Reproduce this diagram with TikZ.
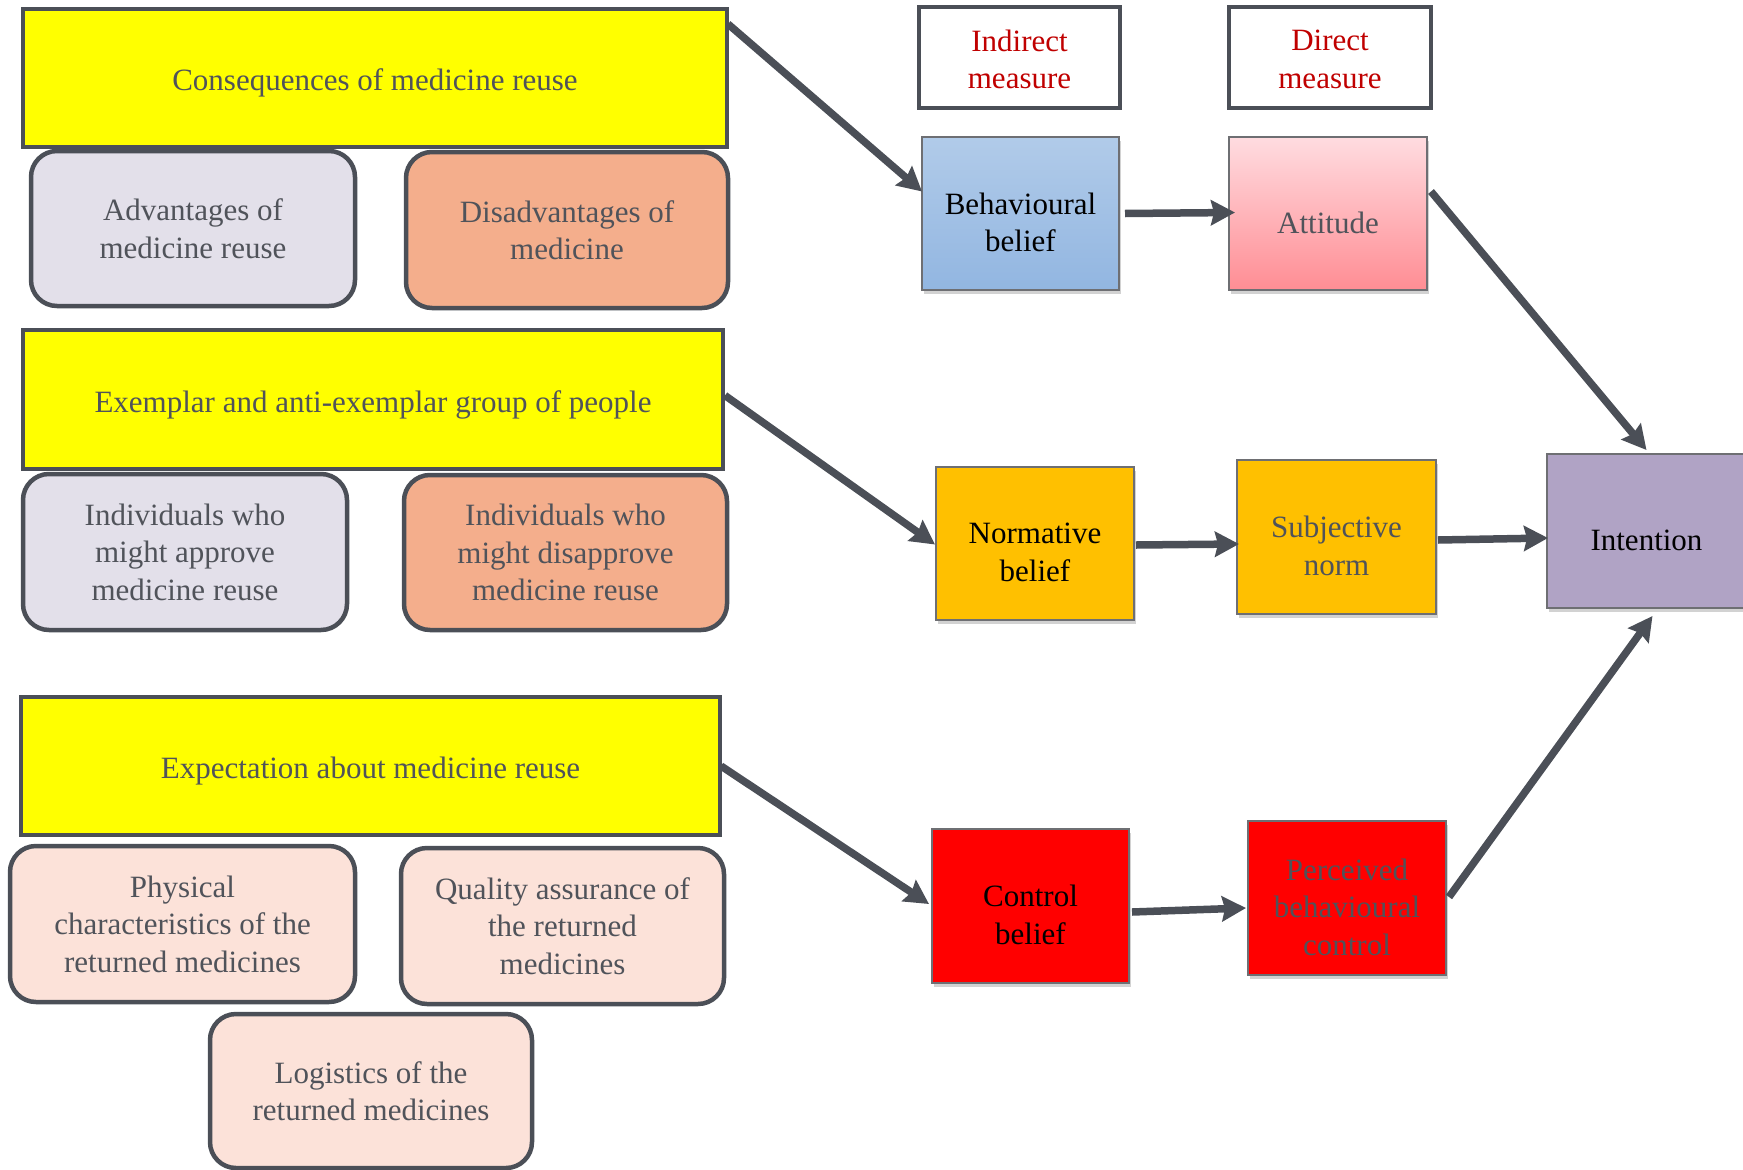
\documentclass[tikz,border=0pt]{standalone}
\usepackage{fontspec}
\setmainfont{Liberation Serif}
\usetikzlibrary{arrows.meta,shadows}

\definecolor{txtgray}{HTML}{50535A}
\definecolor{edgegray}{HTML}{4B4F57}
\definecolor{thingray}{HTML}{6E6F73}
\definecolor{measred}{HTML}{C00000}
\definecolor{headfill}{HTML}{FFFF00}
\definecolor{advfill}{HTML}{E3E0EA}
\definecolor{disfill}{HTML}{F4AE8C}
\definecolor{expfill}{HTML}{FCE2D9}
\definecolor{bbtop}{HTML}{B1CBE9}
\definecolor{bbbot}{HTML}{92B6E1}
\definecolor{atttop}{HTML}{FFDCE0}
\definecolor{attbot}{HTML}{FF8D94}
\definecolor{orangefill}{HTML}{FFC000}
\definecolor{intfill}{HTML}{B0A3C5}
\definecolor{ctrlfill}{HTML}{FF0000}

\tikzset{
  txt/.style={font=\fontsize{31}{37.5}\selectfont, align=center},
  headbox/.style={draw=edgegray, line width=4.5pt,
    fill=headfill, inner sep=0pt, outer sep=0pt},
  headtext/.style={txt, text=txtgray, yshift=-5pt},
  subbox/.style={txt, text=txtgray, draw=edgegray, line width=4.5pt,
    rounded corners=26pt, inner sep=0pt, outer sep=0pt},
  measbox/.style={txt, text=measred, draw=edgegray, line width=4.5pt,
    fill=white, minimum height=101pt, inner sep=0pt, outer sep=0pt},
  tpb/.style={draw=thingray, line width=1.6pt, minimum width=198pt,
    minimum height=153pt, inner sep=0pt, outer sep=0pt,
    drop shadow={shadow xshift=1.5pt, shadow yshift=-4pt, opacity=0.25, fill=black!70}},
  tpbtext/.style={txt, yshift=-9pt},
  conn/.style={draw=edgegray, line width=7.5pt,
    -{Stealth[length=24pt, width=25pt, inset=3pt]}},
}

\begin{document}
\begin{tikzpicture}[x=1pt, y=-1pt]
\useasboundingbox (0,0) rectangle (1743,1170);

% belief sources (left column)
\node[headbox, minimum width=704pt, minimum height=138pt] (c1) at (375,78) {};
\node[headtext] (c1t) at (c1.center) {Consequences of medicine reuse};
\node[subbox, fill=advfill, minimum width=324pt, minimum height=155pt] (adv) at (193,228.5)
  {Advantages of\\medicine reuse};
\node[subbox, fill=disfill, minimum width=322pt, minimum height=156pt] (dis) at (567,230)
  {Disadvantages of\\medicine};

\node[headbox, minimum width=700pt, minimum height=139pt] (c2) at (373,399.5) {};
\node[headtext] (c2t) at (c2.center) {Exemplar and anti-exemplar group of people};
\node[subbox, fill=advfill, minimum width=324pt, minimum height=156pt] (app) at (185,552)
  {Individuals who\\might approve\\medicine reuse};
\node[subbox, fill=disfill, minimum width=323pt, minimum height=155pt] (disapp) at (565.5,552.5)
  {Individuals who\\might disapprove\\medicine reuse};

\node[headbox, minimum width=699pt, minimum height=138pt] (c3) at (370.5,766) {};
\node[headtext] (c3t) at (c3.center) {Expectation about medicine reuse};
\node[subbox, fill=expfill, minimum width=345pt, minimum height=156pt] (phys) at (182.5,924)
  {Physical\\characteristics of the\\returned medicines};
\node[subbox, fill=expfill, minimum width=323pt, minimum height=156pt] (qual) at (562.5,926)
  {Quality assurance of\\the returned\\medicines};
\node[subbox, fill=expfill, minimum width=322pt, minimum height=154pt] (logi) at (371,1091)
  {Logistics of the\\returned medicines};

% column headings
\node[measbox, minimum width=201pt] (ind) at (1019.5,57.5) {};
\node[txt, text=measred, yshift=-2pt] (indt) at (ind.center) {Indirect\\measure};
\node[measbox, minimum width=202pt] (dir) at (1330,57.5) {};
\node[txt, text=measred, yshift=-2pt] (dirt) at (dir.center) {Direct\\measure};

% theory of planned behaviour constructs
\node[tpb, top color=bbtop, bottom color=bbbot, minimum width=197pt] (bb) at (1020.5,213.5)
  {};
\node[tpbtext, text=black] (bbt) at (bb.center) {Behavioural\\belief};
\node[tpb, top color=atttop, bottom color=attbot] (att) at (1328,213.5) {};
\node[tpbtext, text=txtgray] (attt) at (att.center) {Attitude};

\node[tpb, fill=orangefill] (nb) at (1035,543.5) {};
\node[tpbtext, text=black] (nbt) at (nb.center) {Normative\\belief};
\node[tpb, fill=orangefill, minimum width=199pt, minimum height=154pt] (sn) at (1336.5,537) {};
\node[tpbtext, text=txtgray] (snt) at (sn.center) {Subjective\\norm};

\node[tpb, fill=intfill, minimum width=199pt, minimum height=154pt] (int) at (1646.5,531) {};
\node[tpbtext, text=black] (intt) at (int.center) {Intention};

\node[tpb, fill=ctrlfill, minimum width=197pt, minimum height=154pt] (cb) at (1030.5,906) {};
\node[tpbtext, text=black] (cbt) at (cb.center) {Control\\belief};
\node[tpb, fill=ctrlfill, minimum height=154pt] (pbc) at (1347,898) {};
\node[tpbtext, text=txtgray] (pbct) at (pbc.center) {Perceived\\behavioural\\control};

% connectors
\draw[conn] ([xshift=1pt,yshift=-15pt]c1.north east) -- ([yshift=22pt]bb.west);
\draw[conn] ([xshift=6pt]bb.east) -- ([xshift=6pt,yshift=1pt]att.west);
\draw[conn] ([xshift=4pt,yshift=22pt]att.east) -- ([yshift=4pt]int.north);

\draw[conn] ([xshift=2pt,yshift=4pt]c2.east) -- ([xshift=-1pt,yshift=-1pt]nb.west);
\draw[conn] ([xshift=2pt,yshift=-1.5pt]nb.east) -- ([xshift=2pt,yshift=-7pt]sn.west);
\draw[conn] ([xshift=2pt,yshift=-3pt]sn.east) -- ([xshift=1pt,yshift=-7pt]int.west);

\draw[conn] ([xshift=1pt]c3.east) -- ([xshift=-3pt,yshift=2pt]cb.west);
\draw[conn] ([xshift=3pt,yshift=-6pt]cb.east) -- ([xshift=-2pt,yshift=-10pt]pbc.west);
\draw[conn] ([xshift=3pt,yshift=1pt]pbc.east) -- ([xshift=6pt,yshift=-8pt]int.south);
\end{tikzpicture}
\end{document}
